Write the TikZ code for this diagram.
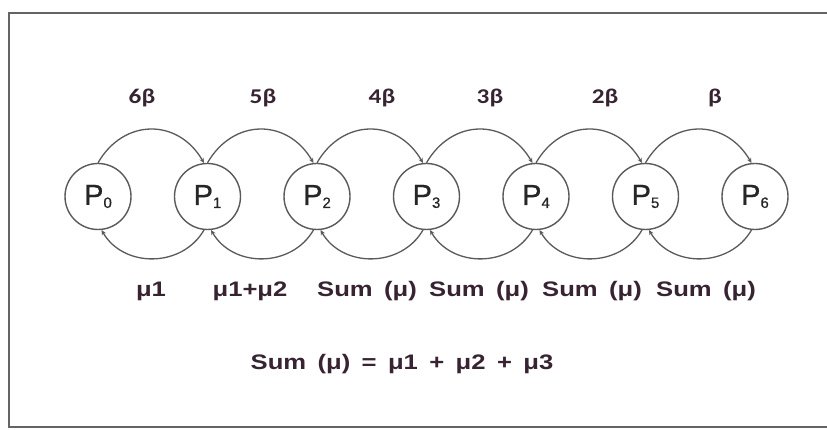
\documentclass[tikz,border=0pt]{standalone}
\usepackage{fontspec}
\usetikzlibrary{arrows.meta}
\newfontfamily\lblfont[FakeStretch=1.22,WordSpace=1.6]{Liberation Sans}
\newfontfamily\betafont[FakeStretch=1.2]{Carlito}
\newfontfamily\pfont[FakeBold=0.6]{Liberation Sans}
\definecolor{txt}{RGB}{55,35,50}
\definecolor{ln}{RGB}{90,90,90}
\definecolor{frm}{RGB}{100,100,100}
\newcommand{\Pn}[1]{\fontsize{29}{29}\selectfont P\raisebox{-3pt}{\fontsize{15}{15}\selectfont #1}}
\begin{document}
\begin{tikzpicture}[x=1pt,y=-1pt,
  state/.style={circle,draw=ln,line width=1.4pt,minimum size=66pt,inner sep=0pt,text=black!85,font=\pfont},
  toplbl/.style={font=\betafont\bfseries\fontsize{21}{21}\selectfont,text=txt},
  botlbl/.style={font=\lblfont\bfseries\fontsize{21}{21}\selectfont,text=txt},
  arc/.style={draw=ln,line width=1.3pt,-{Stealth[length=5pt,width=4.5pt]}}]
\useasboundingbox (0,0) rectangle (827,430);
\fill[white] (0,0) rectangle (827,430);
\draw[frm,line width=1.6pt] (840,13) -- (9,13) -- (9,427) -- (840,427);
\foreach \i in {0,...,6}{
  \node[state] (P\i) at ({98+109.5*\i},196.5) {\Pn{\i}};
}
\foreach \i/\j in {0/1,1/2,2/3,3/4,4/5,5/6}{
  \draw[arc] (P\i.90) to[out=60,in=120,looseness=1.25] (P\j.96);
  \draw[arc] (P\j.264) to[out=240,in=300,looseness=1.1] (P\i.276);
}
\node[toplbl] (b6) at (142,98) {6β};
\node[toplbl] (b5) at (263,98) {5β};
\node[toplbl] (b4) at (382,98) {4β};
\node[toplbl] (b3) at (490,98) {3β};
\node[toplbl] (b2) at (605,98) {2β};
\node[toplbl] (b1) at (715,98) {β};
\node[botlbl] (m1) at (151,291) {μ1};
\node[botlbl] (m2) at (250,291) {μ1+μ2};
\node[botlbl] (m3) at (367,291) {Sum (μ)};
\node[botlbl] (m4) at (479,291) {Sum (μ)};
\node[botlbl] (m5) at (592,291) {Sum (μ)};
\node[botlbl] (m6) at (706,291) {Sum (μ)};
\node[botlbl] (f) at (402,364) {Sum (μ) = μ1 + μ2 + μ3};
\end{tikzpicture}
\end{document}
